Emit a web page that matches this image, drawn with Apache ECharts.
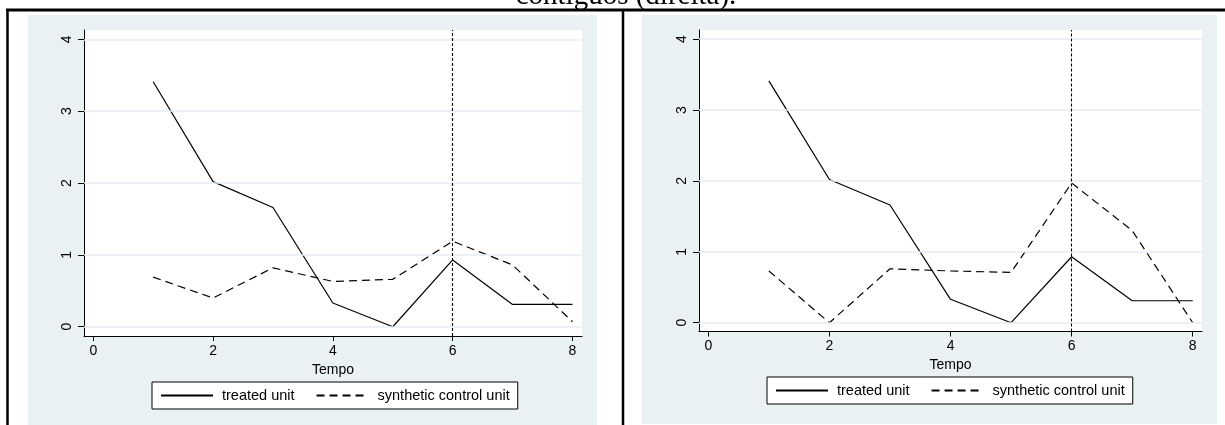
<!DOCTYPE html>
<html>
<head>
<meta charset="utf-8">
<script src="https://cdn.jsdelivr.net/npm/echarts@6/dist/echarts.min.js"></script>
<style>
html,body{margin:0;padding:0;background:#fff;}
#chart{width:1225px;height:425px;}
</style>
</head>
<body>
<div id="chart"></div>
<script>
// ---- data ----
const periods = [1, 2, 3, 4, 5, 6, 7, 8];
const treatedUnit = [3.41, 2.02, 1.66, 0.33, 0.00, 0.93, 0.31, 0.31];
const syntheticLeft = [0.69, 0.40, 0.82, 0.63, 0.66, 1.19, 0.86, 0.07];
const syntheticRight = [0.73, 0.00, 0.76, 0.73, 0.71, 1.97, 1.30, 0.00];
const xTicks = [0, 2, 4, 6, 8];
const yTicks = [0, 1, 2, 3, 4];
const treatmentTime = 6;
const seriesNames = ['treated unit', 'synthetic control unit'];
const xAxisName = 'Tempo';
const titleText = 'contíguos (direita).';

const FONT = '"Liberation Sans", Arial, sans-serif';
const pair = arr => periods.map((p, i) => [p, arr[i]]);

function xAxisFor(gi, min, max) {
  return {
    type: 'value', gridIndex: gi, min: min, max: max,
    name: xAxisName, nameLocation: 'middle', nameGap: gi === 0 ? 23 : 21,
    nameTextStyle: {color: '#000', fontSize: 14, fontFamily: FONT},
    axisLine: {show: true, onZero: false, lineStyle: {color: '#000', width: 1}},
    axisTick: {show: true, length: 5, customValues: xTicks, lineStyle: {color: '#000', width: 1}},
    axisLabel: {show: true, customValues: xTicks, margin: gi === 0 ? 8 : 8, color: '#000', fontSize: 14, fontFamily: FONT},
    splitLine: {show: false}
  };
}
function yAxisFor(gi, min, max) {
  return {
    type: 'value', gridIndex: gi, min: min, max: max,
    axisLine: {show: true, onZero: false, lineStyle: {color: '#000', width: 1}},
    axisTick: {show: true, length: 6, customValues: yTicks, lineStyle: {color: '#000', width: 1}},
    axisLabel: {show: true, customValues: yTicks, rotate: 90, margin: 10, color: '#000', fontSize: 14, fontFamily: FONT},
    splitLine: {show: false}
  };
}
function gridSeries(gi) {
  return {
    type: 'line', xAxisIndex: gi, yAxisIndex: gi, data: pair(treatedUnit),
    symbol: 'none', silent: true, z: 1, lineStyle: {opacity: 0},
    markLine: {
      silent: true, symbol: 'none', label: {show: false},
      lineStyle: {color: '#e5edf0', width: 1.6, type: 'solid'},
      data: yTicks.map(v => ({yAxis: v}))
    }
  };
}
function panelSeries(gi, synth) {
  return [
    gridSeries(gi),
    {
      name: seriesNames[0], type: 'line', xAxisIndex: gi, yAxisIndex: gi,
      data: pair(treatedUnit), symbol: 'none', z: 3,
      lineStyle: {color: '#000', width: 1.2, type: 'solid'}, itemStyle: {color: '#000'},
      markLine: {
        silent: true, symbol: 'none', label: {show: false},
        lineStyle: {color: '#000', width: 1.1, type: [3, 2]},
        data: [{xAxis: treatmentTime}]
      }
    },
    {
      name: seriesNames[1], type: 'line', xAxisIndex: gi, yAxisIndex: gi,
      data: pair(synth), symbol: 'none', z: 3,
      lineStyle: {color: '#000', width: 1.2, type: [8, 5]}, itemStyle: {color: '#000'}
    }
  ];
}
function legendFor(left, top) {
  return {
    data: seriesNames, left: left, top: top, orient: 'horizontal',
    itemWidth: 52, itemHeight: 14, itemGap: 21,
    padding: [6, 8], backgroundColor: '#fff', borderColor: '#000', borderWidth: 1, borderRadius: 0,
    itemStyle: {opacity: 0},
    textStyle: {color: '#000', fontSize: 14.5, fontFamily: FONT, padding: [0, 0, 0, 4]},
    selectedMode: false
  };
}

const chart = echarts.init(document.getElementById('chart'), null, {renderer: 'canvas'});
chart.setOption({
  backgroundColor: '#fff',
  animation: false,
  grid: [
    {left: 84, top: 30, width: 498, height: 306, show: true, backgroundColor: '#fff', borderWidth: 0},
    {left: 699, top: 30, width: 503, height: 301.5, show: true, backgroundColor: '#fff', borderWidth: 0}
  ],
  xAxis: [xAxisFor(0, -0.155, 8.159), xAxisFor(1, -0.154, 8.153)],
  yAxis: [yAxisFor(0, -0.129, 4.13), yAxisFor(1, -0.124, 4.128)],
  legend: [legendFor(152, 382), legendFor(767, 377)],
  series: [].concat(panelSeries(0, syntheticLeft), panelSeries(1, syntheticRight)),
  graphic: [
    {type: 'rect', z: -10, shape: {x: 28, y: 15, width: 569, height: 410}, style: {fill: '#eaf1f3'}},
    {type: 'rect', z: -10, shape: {x: 642, y: 15, width: 575, height: 409}, style: {fill: '#eaf1f3'}},
    {type: 'line', z: 10, shape: {x1: 6, y1: 10, x2: 1225, y2: 10}, style: {stroke: '#000', lineWidth: 3}},
    {type: 'line', z: 10, shape: {x1: 7.5, y1: 9, x2: 7.5, y2: 425}, style: {stroke: '#000', lineWidth: 2.5}},
    {type: 'line', z: 10, shape: {x1: 623, y1: 9, x2: 623, y2: 425}, style: {stroke: '#000', lineWidth: 2.5}},
    {type: 'text', z: 10, x: 626, y: -4,
      style: {text: titleText, fill: '#000', font: '29px "Liberation Serif", "Times New Roman", serif',
        textAlign: 'center', textVerticalAlign: 'middle'}}
  ]
});
</script>
</body>
</html>
